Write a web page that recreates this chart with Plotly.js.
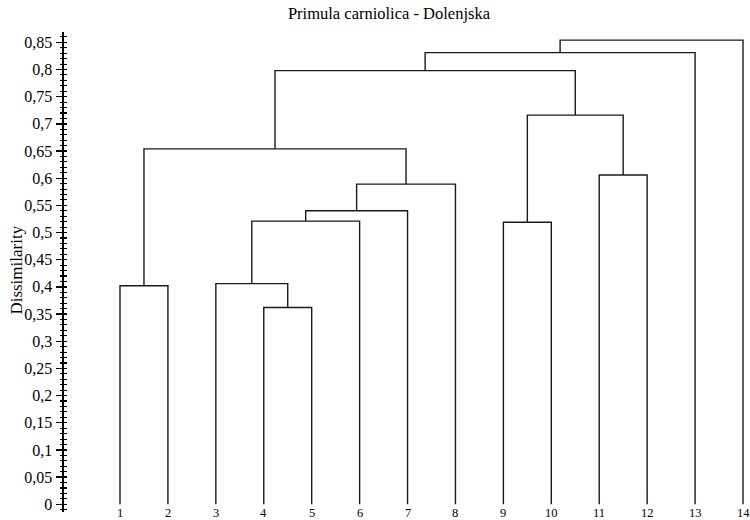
<!DOCTYPE html>
<html>
<head>
<meta charset="utf-8">
<script src="https://cdn.plot.ly/plotly-3.0.1.min.js"></script>
<style>html,body{margin:0;padding:0;background:#fff;}#chart{width:750px;height:520px;}</style>
</head>
<body>
<div id="chart"></div>
<script>
// Leaf labels (objects 1..14)
const leafLabels = ['1','2','3','4','5','6','7','8','9','10','11','12','13','14'];
// Agglomeration steps: clusters numbered 15.. in order of creation
const linkA = [4, 3, 1, 16, 18, 19, 17, 9, 11, 22, 21, 25, 26];
const linkB = [5, 15, 2, 6, 7, 8, 20, 10, 12, 23, 24, 13, 14];
const linkH = [0.362, 0.406, 0.402, 0.521, 0.540, 0.589, 0.654, 0.519, 0.606, 0.716, 0.798, 0.831, 0.854];

const nLeaf = leafLabels.length;
const pos = {}, hgt = {};
for (let i = 1; i <= nLeaf; i++) { pos[i] = i; hgt[i] = 0; }
const lx = [], ly = [];
for (let k = 0; k < linkA.length; k++) {
  const a = linkA[k], b = linkB[k], h = linkH[k], id = nLeaf + 1 + k;
  lx.push(pos[a], pos[a], pos[b], pos[b], null);
  ly.push(hgt[a], h, h, hgt[b], null);
  pos[id] = (pos[a] + pos[b]) / 2;
  hgt[id] = h;
}

const font = '"Liberation Serif", "DejaVu Serif", serif';
const leafAnn = leafLabels.map((t, i) => ({
  text: t, x: i + 1, y: 0, xref: 'x', yref: 'y', xanchor: 'center', yanchor: 'top',
  showarrow: false, yshift: 0, font: {family: font, size: 12.5, color: '#000'}
}));
const traces = [
  {x: lx, y: ly, mode: 'lines', type: 'scatter', line: {color: '#1a1a1a', width: 1.4}, hoverinfo: 'skip', connectgaps: false},
  {x: [1], y: [0], yaxis: 'y2', mode: 'markers', marker: {opacity: 0}, hoverinfo: 'skip'}
];
const layout = {
  width: 750, height: 520,
  margin: {l: 64, r: 4, t: 32, b: 8},
  paper_bgcolor: '#fff', plot_bgcolor: '#fff',
  showlegend: false,
  separators: ', ',
  font: {family: font, color: '#000', size: 16},
  title: {text: 'Primula carniolica - Dolenjska', font: {family: font, size: 16.5, color: '#000'},
          x: 0.4765, xref: 'paper', xanchor: 'center', y: 0.975, yref: 'container', yanchor: 'middle'},
  xaxis: {range: [-0.1686, 14.0626], showgrid: false, zeroline: false, showline: false, showticklabels: false, ticks: ''},
  yaxis: {range: [-0.0142, 0.869], showgrid: false, zeroline: false, showline: true, linecolor: '#000', linewidth: 2.5,
          ticks: 'outside', ticklen: 6, tickwidth: 1.3, tickcolor: '#000', dtick: 0.05, tick0: 0,
          tickfont: {family: font, size: 16, color: '#000'},
          minor: {dtick: 0.01, ticks: 'outside', ticklen: 2, tickwidth: 1.1, tickcolor: '#000'}},
  yaxis2: {overlaying: 'y', matches: 'y', range: [-0.0142, 0.869], showgrid: false, zeroline: false, showline: false, showticklabels: false,
          ticks: 'inside', ticklen: 3, tickwidth: 1.3, tickcolor: '#000', dtick: 0.05, tick0: 0,
          minor: {dtick: 0.01, ticks: 'inside', ticklen: 3, tickwidth: 1.1, tickcolor: '#000'}},
  annotations: [{text: 'Dissimilarity', xref: 'paper', yref: 'paper', x: -0.0696, y: 0.504, xanchor: 'center', yanchor: 'middle',
                 textangle: -90, showarrow: false, font: {family: font, size: 17, color: '#000'}}].concat(leafAnn)
};
Plotly.newPlot('chart', traces, layout, {displayModeBar: false, staticPlot: true});
</script>
</body>
</html>
